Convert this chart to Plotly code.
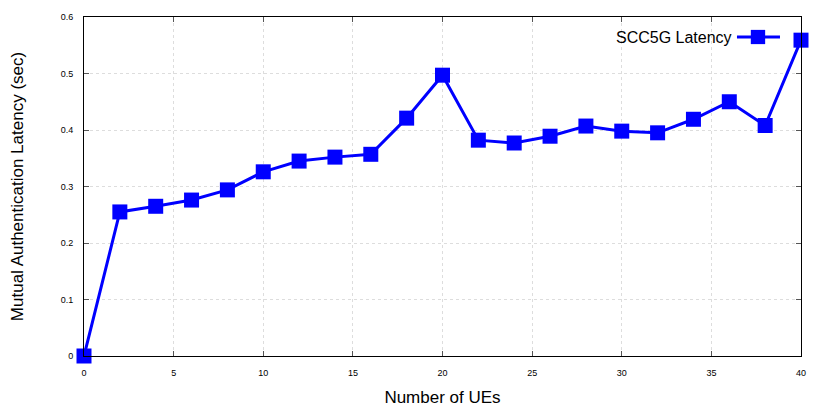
import plotly.graph_objects as go

ues = [0, 2, 4, 6, 8, 10, 12, 14, 16, 18, 20, 22, 24, 26, 28, 30, 32, 34, 36, 38, 40]
latency = [0.0, 0.255, 0.265, 0.276, 0.294, 0.326, 0.345, 0.352, 0.357, 0.421, 0.497,
           0.382, 0.377, 0.389, 0.407, 0.398, 0.395, 0.419, 0.450, 0.408, 0.559]
series_name = "SCC5G Latency"
x_ticks = [0, 5, 10, 15, 20, 25, 30, 35, 40]
y_ticks = [0, 0.1, 0.2, 0.3, 0.4, 0.5, 0.6]
y_ticklabels = ["0", "0.1", "0.2", "0.3", "0.4", "0.5", "0.6"]

FONT = "Liberation Sans, Arial, sans-serif"
BLUE = "#0000ff"

fig = go.Figure()
fig.add_trace(go.Scatter(
    x=ues, y=latency, mode="lines+markers", name=series_name,
    line=dict(color=BLUE, width=3),
    marker=dict(symbol="square", size=15, color=BLUE),
    cliponaxis=False, showlegend=False,
))

axis_common = dict(
    showline=True, linecolor="black", linewidth=1, mirror="ticks",
    ticks="inside", ticklen=5, tickcolor="#555555",
    showgrid=True, gridcolor="#dddddd", griddash="dot", gridwidth=1,
    zeroline=False, tickfont=dict(family=FONT, size=9, color="black"),
    automargin=False,
)

fig.update_xaxes(range=[0, 40], tickvals=x_ticks, ticklabelstandoff=8,
                 title=dict(text="Number of UEs", font=dict(family=FONT, size=17, color="black"), standoff=14),
                 **axis_common)
fig.update_yaxes(range=[0, 0.6], tickvals=y_ticks, ticktext=y_ticklabels, ticklabelstandoff=8,
                 title=dict(text="Mutual Authentication Latency (sec)", font=dict(family=FONT, size=17, color="black"), standoff=33),
                 **axis_common)

# gnuplot-style legend: text followed by sample line with marker
fig.add_annotation(xref="paper", yref="paper", x=0.9065, y=0.941, xanchor="right", yanchor="middle",
                   text=series_name, showarrow=False, font=dict(family=FONT, size=16, color="black"))
fig.add_shape(type="line", xref="paper", yref="paper", x0=0.9107, x1=0.9707, y0=0.941, y1=0.941,
              line=dict(color=BLUE, width=3))
fig.add_shape(type="rect", xref="paper", yref="paper", x0=0.930, x1=0.950, y0=0.920, y1=0.962,
              line=dict(color=BLUE, width=0), fillcolor=BLUE)

fig.update_layout(
    width=830, height=410,
    margin=dict(l=76, r=37, t=9, b=62),
    paper_bgcolor="white", plot_bgcolor="white",
    font=dict(family=FONT, color="black"),
)

fig.write_html("out.html")
